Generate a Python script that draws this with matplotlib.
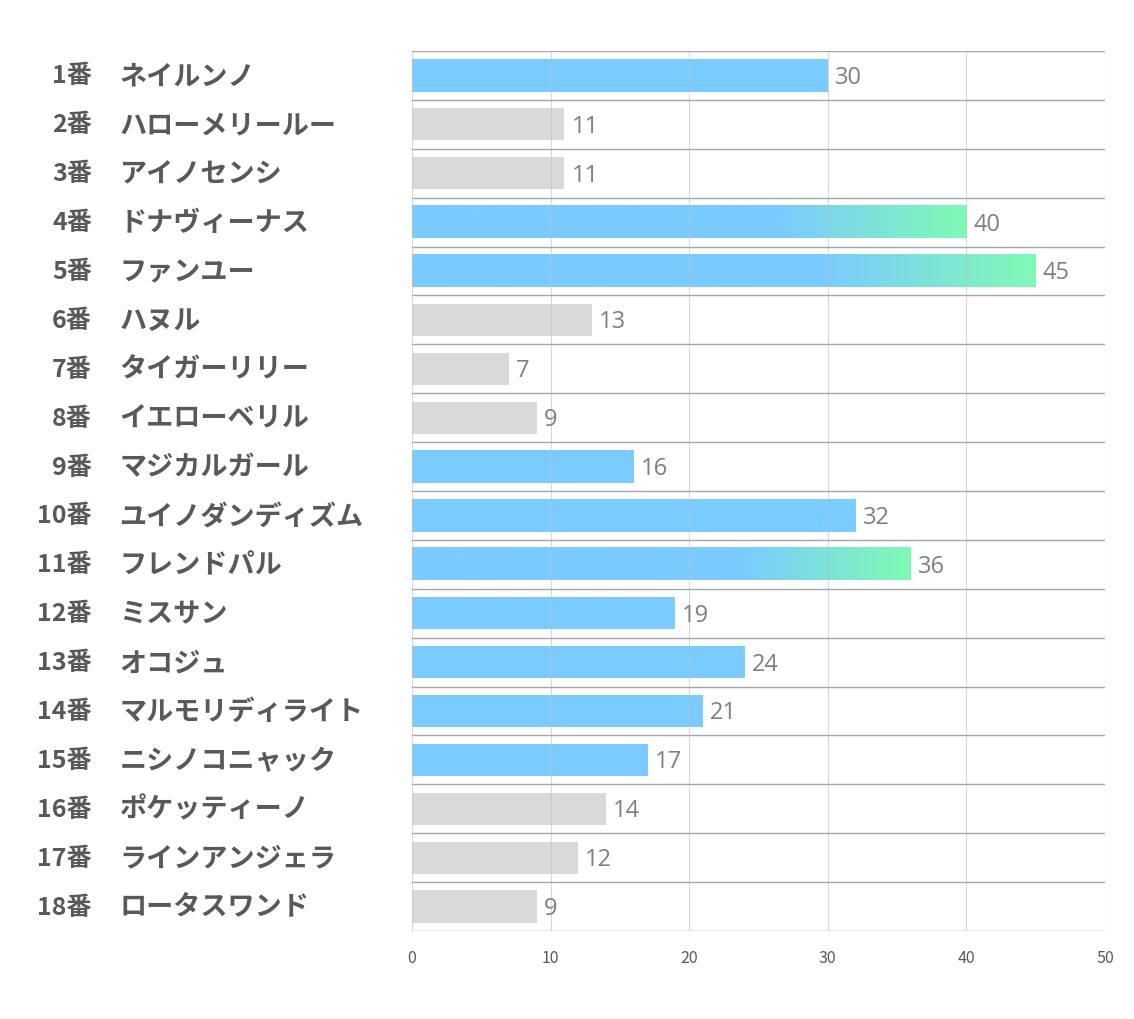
import matplotlib
matplotlib.use("Agg")
import matplotlib.pyplot as plt
import numpy as np
from matplotlib.colors import to_rgb

plt.rcParams['font.family'] = ['Noto Sans CJK JP', 'DejaVu Sans']

numbers = ["1番", "2番", "3番", "4番", "5番", "6番", "7番", "8番", "9番", "10番",
           "11番", "12番", "13番", "14番", "15番", "16番", "17番", "18番"]
names = ["ネイルンノ", "ハローメリールー", "アイノセンシ", "ドナヴィーナス", "ファンユー",
         "ハヌル", "タイガーリリー", "イエローベリル", "マジカルガール", "ユイノダンディズム",
         "フレンドパル", "ミスサン", "オコジュ", "マルモリディライト", "ニシノコニャック",
         "ポケッティーノ", "ラインアンジェラ", "ロータスワンド"]
values = [30, 11, 11, 40, 45, 13, 7, 9, 16, 32, 36, 19, 24, 21, 17, 14, 12, 9]
kinds = ["blue", "gray", "gray", "grad", "grad", "gray", "gray", "gray", "blue", "blue",
         "grad", "blue", "blue", "blue", "blue", "gray", "gray", "gray"]
xticks = [0, 10, 20, 30, 40, 50]

BLUE = "#7ACBFF"
GREEN = "#7FFAB4"
GRAY = "#D9D9D9"

W, H = 1134, 1020
fig = plt.figure(figsize=(W / 100, H / 100), dpi=100)
ax = fig.add_axes([412 / W, 1 - 932 / H, (1105 - 412) / W, (932 - 52) / H])

n = len(values)
ax.set_xlim(0, 50)
ax.set_ylim(n - 0.5, -0.5)
bh = 0.66

b = np.array(to_rgb(BLUE))
g = np.array(to_rgb(GREEN))
for i, (v, k) in enumerate(zip(values, kinds)):
    if k == "gray":
        ax.barh(i, v, height=bh, color=GRAY, zorder=2)
    elif k == "blue":
        ax.barh(i, v, height=bh, color=BLUE, zorder=2)
    else:
        t = np.linspace(0, 1, 400)
        f = np.clip((t - 0.66) / 0.34, 0, 1)
        img = (b[None, :] * (1 - f[:, None]) + g[None, :] * f[:, None])[None, :, :]
        ax.imshow(img, extent=[0, v, i + bh / 2, i - bh / 2], aspect='auto',
                  zorder=2, interpolation='bilinear')
    ax.text(v + 0.5, i + 0.03, str(v), va='center', ha='left', fontsize=17,
            color="#7F7F7F", zorder=4, family=['Open Sans', 'DejaVu Sans'])

ax.set_xlim(0, 50)
ax.set_ylim(n - 0.5, -0.5)

for x in xticks:
    ax.axvline(x, color="#BFBFBF", lw=0.8, alpha=0.6, zorder=3)
for j in range(n + 1):
    ax.axhline(j - 0.5, color="#A6A6A6", lw=1.0, zorder=3)

for s in ax.spines.values():
    s.set_visible(False)

ax.set_yticks([])
ax.set_xticks(xticks)
ax.set_xticklabels([str(x) for x in xticks], fontsize=11.5, color="#595959")
ax.tick_params(axis='x', length=0, pad=13)

for i in range(n):
    ax.text(-23.1, i, numbers[i], ha='right', va='center', fontsize=18,
            fontweight='bold', color="#595959", clip_on=False)
    ax.text(-21.1, i, names[i], ha='left', va='center', fontsize=19.5,
            fontweight='bold', color="#595959", clip_on=False)

fig.savefig("out.png", dpi=100, facecolor="white")
